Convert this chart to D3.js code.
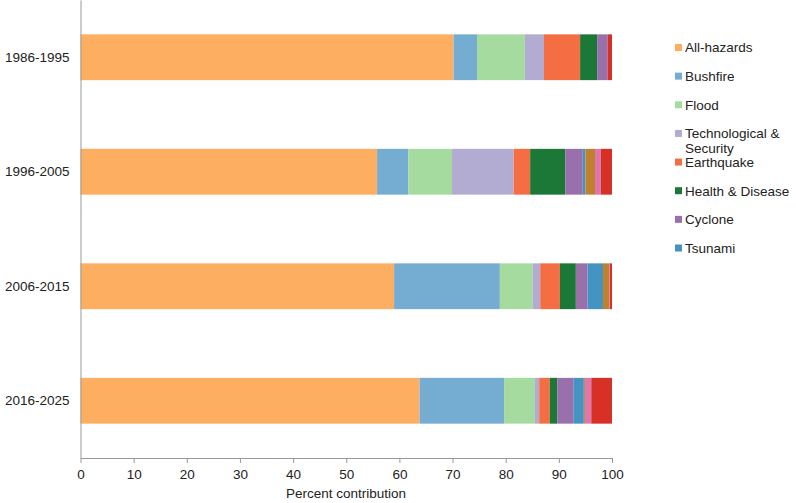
<!DOCTYPE html>
<html><head><meta charset="utf-8">
<script src="https://cdn.jsdelivr.net/npm/d3@7"></script>
<style>body{margin:0;background:#fff;font-family:"Liberation Sans",Arial,sans-serif;}</style>
</head><body>
<svg id="c" width="796" height="503"></svg>
<script>
const periods = ["1986-1995","1996-2005","2006-2015","2016-2025"];
const seriesNames = ["All-hazards","Bushfire","Flood","Technological & Security","Earthquake","Health & Disease","Cyclone","Tsunami","Drought","Heatwave","Storm"];
const legendNames = ["All-hazards","Bushfire","Flood","Technological & Security","Earthquake","Health & Disease","Cyclone","Tsunami"];
const colors = ["#fdae61","#74add1","#a6dba0","#b2abd2","#f46d43","#1b7837","#9970ab","#4393c3","#bf812d","#de77ae","#d73027"];
// percent values per period, in series order
const allHazards   = [70.2, 55.8, 59.0, 63.8];
const bushfire     = [4.4, 5.9, 19.9, 15.9];
const flood        = [9.0, 8.2, 6.2, 5.8];
const technological= [3.6, 11.6, 1.4, 0.8];
const earthquake   = [6.8, 3.1, 3.7, 2.0];
const health       = [3.2, 6.6, 3.0, 1.4];
const cyclone      = [2.0, 3.3, 2.2, 3.1];
const tsunami      = [0.0, 0.5, 2.9, 1.9];
const drought      = [0.0, 1.8, 1.2, 0.2];
const heatwave     = [0.0, 1.1, 0.1, 1.2];
const storm        = [0.8, 2.1, 0.4, 3.9];
const xTicks = [0,10,20,30,40,50,60,70,80,90,100];

const seriesVals = [allHazards,bushfire,flood,technological,earthquake,health,cyclone,tsunami,drought,heatwave,storm];
const rows = periods.map((p,i)=>{const r={period:p}; seriesNames.forEach((s,j)=>r[s]=seriesVals[j][i]); return r;});
const stacked = d3.stack().keys(seriesNames)(rows);

const FS = 13.5;
const svg = d3.select("#c");
const x = d3.scaleLinear().domain([0,100]).range([80.5,612]);
const y = d3.scaleBand().domain(periods).range([0,458]).paddingInner(0.6).paddingOuter(0.3);
const color = d3.scaleOrdinal().domain(seriesNames).range(colors);

svg.append("g").selectAll("g").data(stacked).join("g")
  .attr("fill", d=>color(d.key))
  .selectAll("rect").data(d=>d).join("rect")
  .attr("x", d=>x(d[0])).attr("width", d=>Math.max(0,x(d[1])-x(d[0])))
  .attr("y", d=>y(d.data.period)).attr("height", y.bandwidth());

const xa = svg.append("g").attr("transform","translate(0,458)")
  .call(d3.axisBottom(x).tickValues(xTicks).tickSize(5).tickSizeOuter(0).tickPadding(6));
xa.select(".domain").attr("stroke","#999");
xa.selectAll(".tick line").attr("stroke","#999");
xa.selectAll("text").attr("font-size",FS).attr("fill","#222").attr("font-family","Liberation Sans, Arial, sans-serif");

const ya = svg.append("g").attr("transform","translate(80.5,0)")
  .call(d3.axisLeft(y).tickSize(0).tickPadding(11));
ya.select(".domain").attr("stroke","#999");
ya.selectAll("text").attr("font-size",FS).attr("fill","#222").attr("font-family","Liberation Sans, Arial, sans-serif");

svg.append("text").attr("x",346).attr("y",498).attr("text-anchor","middle")
  .attr("font-size",FS).attr("fill","#222").text("Percent contribution");

const lg = svg.append("g");
const ly = d3.scalePoint().domain(legendNames).range([47.5,248]);
legendNames.forEach(n=>{
  const g = lg.append("g").attr("transform",`translate(675,${ly(n)})`);
  g.append("rect").attr("x",0).attr("y",-3.5).attr("width",7).attr("height",7).attr("fill",color(n));
  const t = g.append("text").attr("x",10).attr("y",4.8).attr("font-size",FS).attr("fill","#222");
  if(n==="Technological & Security"){
    t.append("tspan").attr("x",10).text("Technological &");
    t.append("tspan").attr("x",10).attr("dy",15).text("Security");
  } else t.text(n);
});
</script>
</body></html>
